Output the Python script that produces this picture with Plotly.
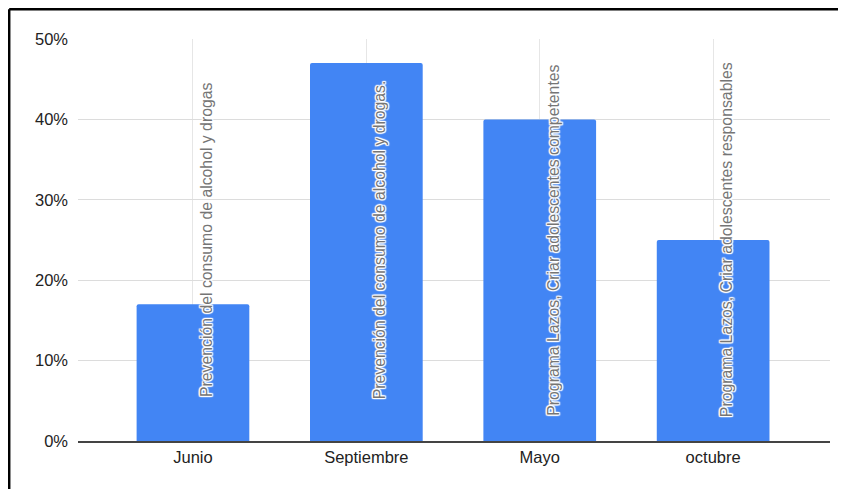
import plotly.graph_objects as go

categories = ["Junio", "Septiembre", "Mayo", "octubre"]
values = [0.17, 0.47, 0.40, 0.25]
bar_labels = [
    "Prevención del consumo de alcohol y drogas",
    "Prevención del consumo de alcohol y drogas.",
    "Programa Lazos, Criar adolescentes competentes",
    "Programa Lazos, Criar adolescentes responsables",
]
y_ticks = [0, 0.1, 0.2, 0.3, 0.4, 0.5]
y_tick_text = ["0%", "10%", "20%", "30%", "40%", "50%"]

FONT = "Liberation Sans, Arial, sans-serif"

fig = go.Figure()
fig.add_trace(go.Bar(
    x=list(range(len(categories))),
    y=values,
    marker=dict(color="#4285F4", cornerradius=2, line=dict(width=0)),
    hoverinfo="skip",
))

halo = ("1px 1px 1px #fff, -1px -1px 1px #fff, 1px -1px 1px #fff, -1px 1px 1px #fff, "
        "0px 1px 1px #fff, 0px -1px 1px #fff, 1px 0px 1px #fff, -1px 0px 1px #fff")
for i, lab in enumerate(bar_labels):
    fig.add_annotation(
        x=i, y=0.5, xref="x", yref="paper",
        text=lab, textangle=-90, showarrow=False,
        xanchor="center", yanchor="middle", xshift=13,
        font=dict(family=FONT, size=15.8, color="#757575", shadow=halo),
    )

# frame lines (left and top)
fig.add_shape(type="line", xref="paper", yref="paper",
              x0=-0.0915, x1=-0.0915, y0=-0.2, y1=1.0741,
              line=dict(color="#000", width=2.5))
fig.add_shape(type="line", xref="paper", yref="paper",
              x0=-0.0915, x1=1.1, y0=1.0741, y1=1.0741,
              line=dict(color="#000", width=2.5))

fig.update_layout(
    width=838, height=481,
    margin=dict(l=70, r=16, t=31, b=48),
    paper_bgcolor="white", plot_bgcolor="white",
    showlegend=False,
    bargap=0.35,
    font=dict(family=FONT, size=16, color="#222"),
    xaxis=dict(
        range=[-0.663, 3.674],
        tickmode="array",
        tickvals=list(range(len(categories))),
        ticktext=categories,
        showgrid=True, gridcolor="#e6e6e6", gridwidth=1,
        showline=True, linecolor="#444", linewidth=1.5,
        ticks="", zeroline=False,
        tickfont=dict(family=FONT, size=16.5, color="#222"),
        fixedrange=True,
    ),
    yaxis=dict(
        range=[0, 0.5],
        tickmode="array",
        tickvals=y_ticks,
        ticktext=y_tick_text,
        showgrid=True, gridcolor="#dcdcdc", gridwidth=1,
        zeroline=False, ticks="",
        ticklabelstandoff=9,
        tickfont=dict(family=FONT, size=16.5, color="#222"),
        fixedrange=True,
    ),
)

fig.write_html("out.html")
